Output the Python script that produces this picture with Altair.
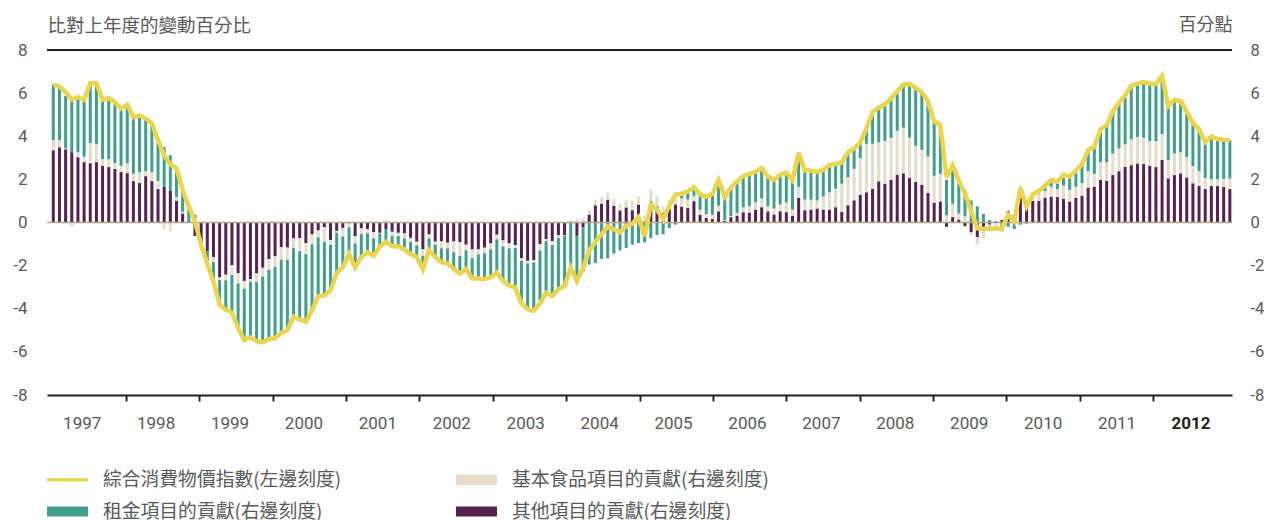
import altair as alt
import pandas as pd

# ---- data (monthly, Jan 1997 .. Dec 2012) ----
other = [3.35, 3.49, 3.40, 3.26, 3.03, 2.80, 2.75, 2.80, 2.62, 2.57, 2.48, 2.34,
         2.29, 1.92, 1.83, 2.15, 1.92, 1.55, 1.65, 1.46, 1.00, 0.42, 0.06, -0.63,
         -1.00, -1.34, -1.61, -2.55, -2.42, -1.98, -2.36, -2.71, -2.62, -2.36, -2.10, -1.70,
         -1.57, -1.14, -1.16, -0.74, -0.73, -0.96, -0.55, -0.37, -0.22, -0.82, -0.39, -0.25,
         -0.05, -0.64, -0.27, -0.31, -0.45, -0.48, -0.30, -0.43, -0.48, -0.51, -0.71, -0.89,
         -1.25, -0.55, -0.89, -0.88, -0.94, -0.88, -0.91, -1.03, -1.25, -1.25, -1.17, -0.97,
         -0.57, -0.83, -0.97, -1.05, -1.66, -1.78, -1.74, -1.00, -0.77, -0.86, -0.60, -0.58,
         0.00, -0.62, -0.23, 0.37, 0.80, 0.88, 1.06, 0.78, 0.56, 0.70, 0.57, 0.83,
         0.05, 0.98, 0.74, 0.43, 0.65, 0.84, 0.74, 0.67, 0.99, 0.36, 0.22, 0.16,
         0.52, 0.07, 0.25, 0.32, 0.48, 0.46, 0.60, 0.71, 0.52, 0.37, 0.52, 0.48,
         0.32, 1.15, 0.57, 0.60, 0.65, 0.60, 0.60, 0.71, 0.50, 0.80, 1.03, 1.29,
         1.40, 1.57, 1.91, 1.80, 1.98, 2.22, 2.28, 2.06, 1.88, 1.75, 1.38, 0.92,
         0.98, -0.20, 0.25, 0.14, -0.17, -0.45, -0.68, -0.40, -0.10, 0.05, 0.12, 0.54,
         0.35, 1.15, 0.72, 1.00, 1.00, 1.15, 1.20, 1.18, 1.09, 0.97, 1.15, 1.25,
         1.62, 1.66, 1.97, 1.94, 2.20, 2.38, 2.58, 2.66, 2.74, 2.71, 2.62, 2.57,
         2.90, 2.05, 2.20, 2.28, 2.09, 1.82, 1.69, 1.55, 1.69, 1.69, 1.65, 1.55]

food = [0.47, 0.33, 0.05, -0.18, 0.23, 0.25, 0.94, 0.83, 0.32, 0.37, 0.27, 0.29,
        0.46, 0.34, 0.51, 0.23, 0.42, 0.37, -0.30, -0.40, 0.18, 0.08, 0.00, 0.00,
        0.00, 0.00, -0.23, -0.12, -0.26, -0.45, -0.47, -0.36, -0.12, -0.41, -0.41, -0.50,
        -0.49, -0.58, -0.58, -0.45, -0.60, -0.51, -0.46, -0.32, -0.68, -0.22, -0.09, -0.40,
        -0.17, -0.33, -0.27, -0.19, -0.29, -0.03, 0.12, -0.20, -0.15, -0.23, -0.20, -0.17,
        -0.30, -0.19, -0.13, -0.32, -0.26, -0.50, -0.64, -0.26, -0.40, -0.23, -0.26, -0.28,
        -0.21, -0.28, -0.23, -0.13, -0.12, -0.12, -0.11, -0.30, -0.09, -0.19, -0.12, -0.03,
        0.10, 0.15, 0.20, 0.23, 0.23, 0.31, 0.32, 0.31, 0.31, 0.36, 0.45, 0.36,
        0.28, 0.55, 0.48, 0.31, 0.40, 0.32, 0.38, 0.40, 0.25, 0.23, 0.17, 0.20,
        0.26, 0.04, 0.05, 0.12, 0.22, 0.29, 0.34, 0.40, 0.23, 0.28, 0.31, 0.45,
        0.28, 0.51, 0.49, 0.46, 0.37, 0.60, 0.80, 0.86, 1.30, 1.30, 1.46, 1.69,
        2.25, 2.08, 1.80, 1.98, 1.95, 2.03, 2.12, 1.88, 1.68, 1.62, 1.68, 1.25,
        1.28, 0.34, 0.62, 0.28, 0.29, -0.15, -0.34, -0.33, -0.30, -0.30, 0.00, 0.00,
        0.00, 0.58, 0.05, 0.35, 0.35, 0.31, 0.46, 0.37, 0.62, 0.54, 0.51, 0.57,
        0.77, 0.60, 0.83, 0.86, 1.00, 1.05, 1.05, 1.20, 1.23, 1.22, 1.15, 1.20,
        1.20, 0.85, 1.00, 0.97, 0.95, 0.80, 0.69, 0.52, 0.32, 0.32, 0.37, 0.49]

rent = [2.58, 2.49, 2.42, 2.52, 2.56, 2.61, 2.77, 2.80, 2.72, 2.75, 2.73, 2.57,
        2.57, 2.54, 2.55, 2.40, 2.24, 1.97, 1.85, 1.66, 1.33, 0.90, 0.60, 0.35,
        -0.05, -0.50, -0.85, -1.20, -1.40, -1.72, -2.10, -2.34, -2.62, -2.72, -3.00, -3.20,
        -3.29, -3.36, -3.26, -3.15, -3.12, -3.13, -3.00, -2.71, -2.48, -2.10, -1.82, -1.43,
        -1.25, -1.11, -1.05, -0.90, -0.80, -0.60, -0.60, -0.42, -0.42, -0.43, -0.46, -0.49,
        -0.62, -0.58, -0.61, -0.66, -0.74, -0.79, -0.82, -0.88, -0.95, -1.12, -1.20, -1.30,
        -1.54, -1.64, -1.74, -1.76, -2.07, -2.13, -2.23, -2.32, -2.37, -2.33, -2.28, -2.32,
        -2.05, -2.15, -2.05, -1.95, -1.88, -1.69, -1.66, -1.44, -1.30, -1.18, -1.03, -0.95,
        -0.92, -0.72, -0.58, -0.55, -0.26, -0.10, 0.14, 0.28, 0.44, 0.72, 0.82, 0.97,
        1.15, 1.08, 1.30, 1.50, 1.42, 1.43, 1.38, 1.40, 1.39, 1.34, 1.36, 1.41,
        1.38, 1.50, 1.34, 1.28, 1.38, 1.20, 1.18, 1.11, 0.95, 1.15, 0.96, 0.77,
        0.75, 1.49, 1.58, 1.67, 1.75, 1.74, 1.94, 2.43, 2.62, 2.61, 2.62, 2.43,
        2.26, 1.64, 1.73, 1.50, 1.23, 1.02, 0.75, 0.40, 0.12, -0.05, -0.41, -0.20,
        -0.30, -0.10, -0.06, 0.00, 0.11, 0.15, 0.23, 0.26, 0.37, 0.54, 0.66, 0.88,
        0.97, 1.25, 1.52, 1.63, 1.95, 2.12, 2.18, 2.46, 2.42, 2.51, 2.62, 2.62,
        2.55, 2.50, 2.42, 2.42, 2.15, 2.02, 1.97, 1.63, 1.85, 1.80, 1.75, 1.77]

cpi = [6.40, 6.31, 6.05, 5.69, 5.81, 5.69, 6.46, 6.46, 5.69, 5.77, 5.58, 5.28,
       5.46, 4.89, 4.97, 4.82, 4.59, 3.82, 3.10, 2.70, 2.51, 1.51, 0.74, 0.05,
       -1.05, -1.90, -2.74, -3.80, -4.05, -4.16, -4.90, -5.45, -5.33, -5.51, -5.55, -5.41,
       -5.37, -5.12, -5.00, -4.38, -4.49, -4.60, -4.08, -3.42, -3.38, -3.15, -2.33, -2.09,
       -1.47, -2.08, -1.60, -1.39, -1.54, -1.12, -0.90, -1.10, -1.10, -1.25, -1.46, -1.60,
       -2.17, -1.28, -1.60, -1.84, -1.91, -2.15, -2.37, -2.16, -2.60, -2.60, -2.62, -2.55,
       -2.32, -2.72, -2.92, -3.02, -3.75, -4.03, -4.09, -3.75, -3.26, -3.41, -3.10, -2.95,
       -2.09, -2.72, -2.10, -1.30, -0.90, -0.55, -0.19, -0.31, -0.45, -0.16, -0.06, 0.25,
       -0.64, 0.82, 0.60, 0.13, 0.78, 1.29, 1.33, 1.45, 1.65, 1.30, 1.20, 1.33,
       1.96, 1.19, 1.62, 1.91, 2.15, 2.25, 2.35, 2.53, 2.13, 1.97, 2.23, 2.32,
       1.97, 3.23, 2.42, 2.40, 2.36, 2.44, 2.67, 2.71, 2.78, 3.25, 3.43, 3.71,
       4.36, 5.12, 5.33, 5.48, 5.75, 6.10, 6.40, 6.42, 6.24, 6.04, 5.63, 4.68,
       4.53, 2.10, 2.65, 1.94, 1.35, 0.55, -0.27, -0.29, -0.28, -0.28, -0.30, 0.37,
       0.05, 1.60, 0.74, 1.30, 1.47, 1.70, 1.97, 1.89, 2.22, 2.13, 2.40, 2.71,
       3.36, 3.51, 4.33, 4.51, 5.15, 5.56, 5.89, 6.35, 6.44, 6.51, 6.45, 6.43,
       6.80, 5.39, 5.68, 5.63, 5.14, 4.62, 4.32, 3.72, 3.99, 3.87, 3.84, 3.82]

months = list(range(len(cpi)))
first_year = 1997
years = [str(y) for y in range(1997, 2013)]

CPI_NAME = "綜合消費物價指數(左邊刻度)"
FOOD_NAME = "基本食品項目的貢獻(右邊刻度)"
RENT_NAME = "租金項目的貢獻(右邊刻度)"
OTHER_NAME = "其他項目的貢獻(右邊刻度)"
# legend fills column by column: column 1 = CPI, rent; column 2 = food, other
series_names = [CPI_NAME, RENT_NAME, FOOD_NAME, OTHER_NAME]
series_colors = ["#E9D550", "#419E8A", "#E3DDC9", "#552250"]
line_sym = "M-1,-0.18H3.316V0.18H-1Z"
rect_sym = "M-1,-0.53H3.316V0.53H-1Z"
series_shapes = [line_sym, rect_sym, rect_sym, rect_sym]

# ---- tables ----
bars = pd.concat([
    pd.DataFrame({"i": months, "value": other, "ord": 0, "series": OTHER_NAME}),
    pd.DataFrame({"i": months, "value": food, "ord": 1, "series": FOOD_NAME}),
    pd.DataFrame({"i": months, "value": rent, "ord": 2, "series": RENT_NAME}),
], ignore_index=True)
line_df = pd.DataFrame({"i": months, "cpi": cpi})
legend_df = pd.DataFrame({"series": series_names})

GRAY = "#58595B"
DARK = "#231F20"
NUM_FONT = "Roboto"
CJK_FONT = "Noto Sans CJK TC"

xscale = alt.Scale(domain=[-1.023, 191.35], nice=False, zero=False, padding=0)
yscale = alt.Scale(domain=[-8, 8], nice=False, padding=0)
tick_vals = [round(-0.114 + 11.912 * k, 3) for k in range(1, len(years))]
label_vals = [round(4.61 + 12 * k, 3) for k in range(len(years))]

color_scale = alt.Scale(domain=series_names, range=series_colors)
shape_scale = alt.Scale(domain=series_names, range=series_shapes)
legend = alt.Legend(title=None, orient="none", legendX=0, legendY=420, columns=2,
                    columnPadding=114, rowPadding=12, symbolSize=361, symbolStrokeWidth=0,
                    symbolOpacity=1, labelOffset=37, labelFont=CJK_FONT, labelFontSize=18.8,
                    labelColor=GRAY, labelLimit=0, padding=0)

tick_axis = alt.Axis(orient="bottom", values=tick_vals, labels=False, ticks=True, tickSize=6,
                     tickWidth=2, tickColor=DARK, domain=True, domainColor=DARK, domainWidth=2,
                     grid=False, title=None)
label_axis = alt.Axis(orient="bottom", values=label_vals, ticks=False, domain=False, grid=False,
                      title=None,
                      labelExpr="'' + (%d + round((datum.value - 4.61) / 12))" % first_year,
                      labelPadding=20, labelFont=NUM_FONT, labelFontSize=17,
                      labelFlush=False, labelOverlap=False,
                      labelColor={"condition": {"test": "datum.value > 180", "value": DARK}, "value": GRAY},
                      labelFontWeight={"condition": {"test": "datum.value > 180", "value": "bold"}, "value": "normal"})
left_axis = alt.Axis(orient="left", values=list(range(-8, 9, 2)), ticks=False, domain=False,
                     grid=False, labelPadding=20, labelFont=NUM_FONT, labelFontSize=17,
                     labelColor=GRAY, labelExpr="'' + datum.value",
                     title="比對上年度的變動百分比", titleAngle=0,
                     titleAlign="left", titleBaseline="middle", titleX=0, titleY=-25,
                     titleFont=CJK_FONT, titleFontSize=18.5, titleFontWeight="normal",
                     titleColor=GRAY)
right_axis = alt.Axis(orient="right", values=list(range(-8, 9, 2)), ticks=False, domain=False,
                      grid=False, labelPadding=18, labelFont=NUM_FONT, labelFontSize=16.5,
                      labelColor=GRAY, labelExpr="'' + datum.value",
                      title="百分點", titleAngle=0,
                      titleAlign="right", titleBaseline="middle", titleX=0, titleY=-25,
                      titleFont=CJK_FONT, titleFontSize=18, titleFontWeight="normal",
                      titleColor=GRAY)

bar_layer = alt.Chart(bars).mark_bar(size=3).encode(
    x=alt.X("i:Q", scale=xscale, axis=tick_axis),
    y=alt.Y("value:Q", stack="zero", scale=yscale, axis=right_axis),
    color=alt.Color("series:N", scale=color_scale, legend=legend),
    order=alt.Order("ord:Q", sort="ascending"),
)

zero_layer = alt.Chart(pd.DataFrame({"v": [0]})).mark_rule(color="#ABA686", strokeWidth=1.5).encode(
    y=alt.Y("v:Q", scale=yscale, axis=None))
top_layer = alt.Chart(pd.DataFrame({"v": [8]})).mark_rule(color=DARK, strokeWidth=2).encode(
    y=alt.Y("v:Q", scale=yscale, axis=None))

line_layer = alt.Chart(line_df).mark_line(color=series_colors[0], strokeWidth=4.5,
                                          strokeJoin="miter", strokeMiterLimit=3).encode(
    x=alt.X("i:Q", scale=xscale, axis=label_axis),
    y=alt.Y("cpi:Q", scale=yscale, axis=left_axis),
)

legend_layer = alt.Chart(legend_df).mark_point(filled=True, opacity=0).encode(
    color=alt.Color("series:N", scale=color_scale, legend=legend),
    shape=alt.Shape("series:N", scale=shape_scale, legend=legend),
)

chart = alt.layer(bar_layer, zero_layer, top_layer, line_layer, legend_layer).resolve_scale(
    y="independent"
).resolve_axis(
    x="independent", y="independent"
).properties(
    width=1185, height=345,
    padding={"left": 39, "top": 42, "right": 32, "bottom": 135},
    autosize=alt.AutoSizeParams(type="none"),
).configure_view(stroke=None)

chart.save("out.html", embed_options={"renderer": "svg", "actions": False})
